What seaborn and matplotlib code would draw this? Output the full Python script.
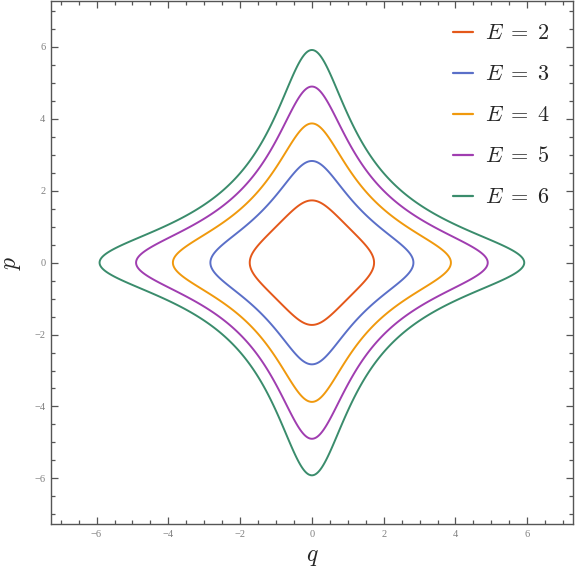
import numpy as np
import matplotlib
matplotlib.use("Agg")
import matplotlib.pyplot as plt
import seaborn as sns
from matplotlib.ticker import MultipleLocator
from matplotlib.lines import Line2D

# Data: energy levels of H(q, p) = sqrt((1 + q^2)(1 + p^2))
energies = [2, 3, 4, 5, 6]
colors = ["#E4581A", "#5A6FC8", "#F0990D", "#A03DB0", "#3A8C6C"]
labels = [rf"$E\;=\;{e}$" for e in energies]
x_range = [-7.27, 7.27]
y_range = [-7.27, 7.27]

sns.set_theme(style="white")
plt.rcParams["mathtext.fontset"] = "cm"
plt.rcParams["font.family"] = ["Liberation Serif", "DejaVu Serif"]

q = np.linspace(-7.3, 7.3, 900)
p = np.linspace(-7.3, 7.3, 900)
Q, P = np.meshgrid(q, p)
H = np.sqrt((1 + Q**2) * (1 + P**2))

fig = plt.figure(figsize=(5.76, 5.75), dpi=100)
ax = fig.add_axes([0.0885, 0.0887, 0.906, 0.909])

ax.contour(Q, P, H, levels=energies, colors=colors, linewidths=1.4)

ax.set_xlim(*x_range)
ax.set_ylim(*y_range)
ax.xaxis.set_major_locator(MultipleLocator(2))
ax.yaxis.set_major_locator(MultipleLocator(2))
ax.xaxis.set_minor_locator(MultipleLocator(0.5))
ax.yaxis.set_minor_locator(MultipleLocator(0.5))
ax.tick_params(which="both", direction="in", top=True, right=True,
               bottom=True, left=True,
               labeltop=False, labelright=False, color="#555555", width=0.9)
ax.tick_params(which="major", length=5, labelsize=7.5, labelcolor="#808080", pad=4)
ax.tick_params(which="minor", length=3)
for s in ax.spines.values():
    s.set_color("#555555")
    s.set_linewidth(1.0)

ax.set_xlabel("$q$", fontsize=17, labelpad=6)
ax.set_ylabel("$p$", fontsize=17, labelpad=8)

handles = [Line2D([], [], color=c, lw=1.6) for c in colors]
leg = ax.legend(handles, labels, loc="upper right", frameon=False, fontsize=16,
                handlelength=0.9, handletextpad=0.55, labelspacing=0.92,
                bbox_to_anchor=(0.995, 0.995))

fig.savefig("out.png", dpi=100)
